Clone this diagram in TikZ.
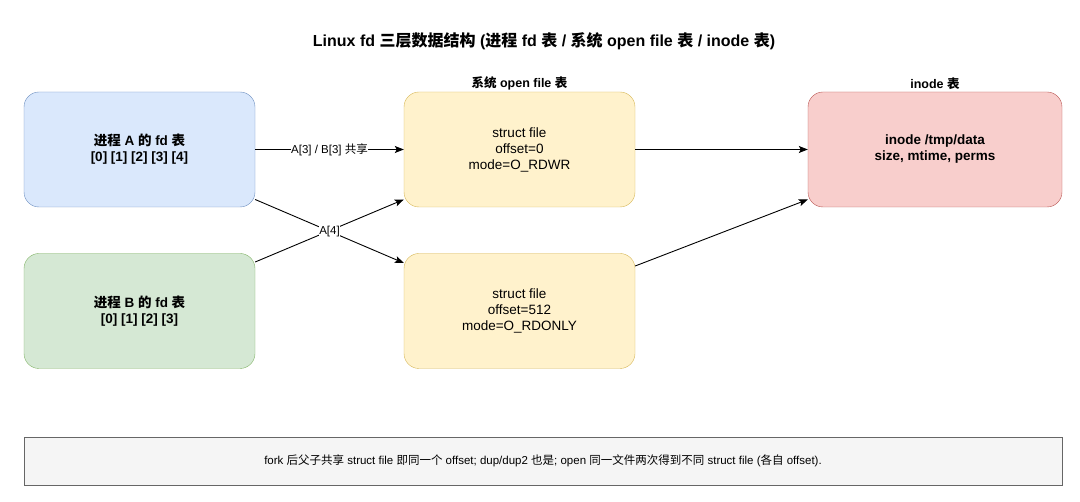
\documentclass[tikz,border=0pt]{standalone}
\usepackage{fontspec}
\setmainfont{Liberation Sans}
\newfontfamily\cjkfont{Noto Sans CJK SC}
\newcommand{\cjk}[1]{{\cjkfont #1}}
\usepackage{tikz}
\usetikzlibrary{arrows.meta, positioning}
\usepackage{xcolor}
\definecolor{fdblue}{HTML}{DAE8FC}
\definecolor{fdbluedraw}{HTML}{6C8EBF}
\definecolor{fdgreen}{HTML}{D5E8D4}
\definecolor{fdgreendraw}{HTML}{82B366}
\definecolor{fdyellow}{HTML}{FFF2CC}
\definecolor{fdyellowdraw}{HTML}{D6B656}
\definecolor{fdred}{HTML}{F8CECC}
\definecolor{fdreddraw}{HTML}{B85450}
\definecolor{fdnote}{HTML}{F5F5F5}
\definecolor{fdnotedraw}{HTML}{666666}
\tikzset{
    box/.style={draw, rounded corners=15pt, align=center, minimum width=231pt, minimum height=115pt,
                font=\fontsize{13.5}{16}\selectfont, inner sep=2pt},
    proc/.style={box, font=\fontsize{13.5}{16}\selectfont\bfseries},
    procA/.style={proc, draw=fdbluedraw, fill=fdblue},
    procB/.style={proc, draw=fdgreendraw, fill=fdgreen},
    ofile/.style={box, draw=fdyellowdraw, fill=fdyellow},
    inode/.style={proc, draw=fdreddraw, fill=fdred, minimum width=254pt},
    note/.style={draw=fdnotedraw, fill=fdnote, minimum width=1038pt, minimum height=48pt,
                 font=\fontsize{11.5}{14}\selectfont},
    head/.style={font=\fontsize{12.5}{14}\selectfont\bfseries, inner sep=2pt},
    arrow/.style={-{Stealth[length=9pt, width=7pt, inset=2pt]}, line width=0.9pt, black},
    lbl/.style={font=\fontsize{11.5}{13}\selectfont, fill=white, inner sep=0.5pt},
}

\begin{document}
\begin{tikzpicture}[x=1pt, y=-1pt]
    \useasboundingbox (0,0) rectangle (1080,502);
    \node[font=\fontsize{16}{19}\selectfont\bfseries] (title) at (544,41)
        {Linux fd \cjk{三层数据结构} (\cjk{进程} fd \cjk{表} / \cjk{系统} open file \cjk{表} / inode \cjk{表})};
    \node[procA] (fdA) at (139.5,149.5) {\cjk{进程} A \cjk{的} fd \cjk{表}\\{}[0] [1] [2] [3] [4]};
    \node[procB] (fdB) at (139.5,311) {\cjk{进程} B \cjk{的} fd \cjk{表}\\{}[0] [1] [2] [3]};
    \node[ofile] (file1) at (519.5,149.5) {struct file\\offset=0\\mode=O\_RDWR};
    \node[ofile] (file2) at (519.5,311) {struct file\\offset=512\\mode=O\_RDONLY};
    \node[inode] (ino) at (935,149.5) {inode /tmp/data\\size, mtime, perms};
    \node[head, above=0pt of file1] (filehead) {\cjk{系统} open file \cjk{表}};
    \node[head, above=0pt of ino] (inohead) {inode \cjk{表}};
    \node[note] (remark) at (543,461)
        {fork \cjk{后父子共享} struct file \cjk{即同一个} offset; dup/dup2 \cjk{也是}; open \cjk{同一文件两次得到不同} struct file (\cjk{各自} offset).};
    % fd -> open file
    \draw[arrow] (fdA.east) -- node[lbl] {A[3] / B[3] \cjk{共享}} (file1.west);
    \draw[arrow] ([yshift=49pt]fdB.east) -- ([yshift=-50pt]file1.west);
    \draw[arrow] ([yshift=-50pt]fdA.east) -- node[lbl] {A[4]} ([yshift=48pt]file2.west);
    % open file -> inode
    \draw[arrow] (file1.east) -- (ino.west);
    \draw[arrow] ([yshift=45pt]file2.east) -- ([yshift=-50pt]ino.west);
\end{tikzpicture}
\end{document}
